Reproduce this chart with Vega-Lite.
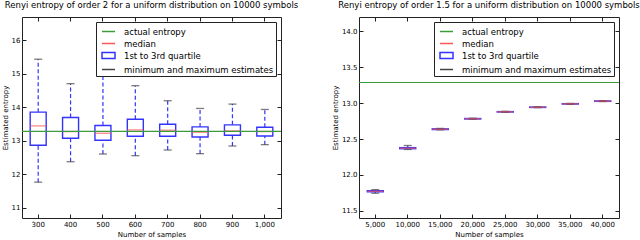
{
  "$schema": "https://vega.github.io/schema/vega-lite/v6.json",
  "padding": 0,
  "background": "white",
  "datasets": {
    "left": [
      {"n": 300, "min": 11.77, "q1": 12.87, "med": 13.45, "q3": 13.86, "max": 15.44},
      {"n": 400, "min": 12.38, "q1": 13.08, "med": 13.28, "q3": 13.70, "max": 14.71},
      {"n": 500, "min": 12.61, "q1": 13.02, "med": 13.23, "q3": 13.46, "max": 15.35},
      {"n": 600, "min": 12.56, "q1": 13.14, "med": 13.33, "q3": 13.65, "max": 14.65},
      {"n": 700, "min": 12.73, "q1": 13.14, "med": 13.32, "q3": 13.50, "max": 14.20},
      {"n": 800, "min": 12.62, "q1": 13.12, "med": 13.26, "q3": 13.42, "max": 13.97},
      {"n": 900, "min": 12.85, "q1": 13.17, "med": 13.30, "q3": 13.48, "max": 14.10},
      {"n": 1000, "min": 12.89, "q1": 13.15, "med": 13.28, "q3": 13.41, "max": 13.94}
    ],
    "right": [
      {"n": 5000, "min": 11.745, "q1": 11.765, "med": 11.772, "q3": 11.78, "max": 11.795},
      {"n": 10000, "min": 12.355, "q1": 12.365, "med": 12.372, "q3": 12.38, "max": 12.41},
      {"n": 15000, "min": 12.628, "q1": 12.632, "med": 12.637, "q3": 12.642, "max": 12.648},
      {"n": 20000, "min": 12.775, "q1": 12.779, "med": 12.782, "q3": 12.786, "max": 12.79},
      {"n": 25000, "min": 12.872, "q1": 12.876, "med": 12.879, "q3": 12.882, "max": 12.886},
      {"n": 30000, "min": 12.937, "q1": 12.94, "med": 12.943, "q3": 12.946, "max": 12.95},
      {"n": 35000, "min": 12.984, "q1": 12.987, "med": 12.99, "q3": 12.993, "max": 12.996},
      {"n": 40000, "min": 13.022, "q1": 13.025, "med": 13.028, "q3": 13.031, "max": 13.034}
    ],
    "truth": [{"v": 13.2877}]
  },
  "config": {
    "font": "DejaVu Sans",
    "view": {"stroke": "#222", "strokeWidth": 1},
    "axis": {"grid": false, "domain": false, "tickSize": -4, "tickColor": "#222", "labelFontSize": 7, "labelColor": "black", "titleFontSize": 7, "titleFontWeight": "normal", "titleColor": "black", "labelFont": "DejaVu Sans", "titleFont": "DejaVu Sans"},
    "title": {"font": "DejaVu Sans", "fontSize": 8.5, "fontWeight": "normal", "color": "black", "offset": 7},
    "legend": {"orient": "top-right", "offset": 5, "fillColor": "white", "strokeColor": "#222", "padding": 2, "symbolOffset": 3, "labelFont": "DejaVu Sans", "labelFontSize": 8.5, "labelColor": "black", "symbolSize": 169, "symbolStrokeWidth": 1.5, "labelOffset": 8, "rowPadding": 0, "titlePadding": 0}
  },
  "spacing": 31,
  "resolve": {"scale": {"color": "independent"}, "legend": {"color": "independent"}},
  "hconcat": [
    {
      "width": 259,
      "height": 201,
      "title": "Renyi entropy of order 2 for a uniform distribution on 10000 symbols",
      "data": {"name": "left"},
      "resolve": {"axis": {"x": "independent", "y": "independent"}},
      "layer": [
        {
          "mark": {"type": "rule", "color": "#3333ff", "strokeDash": [4, 2.5], "strokeWidth": 1.2},
          "encoding": {
            "x": {"field": "n", "type": "ordinal", "scale": {"paddingInner": 0, "paddingOuter": 0}, "axis": null},
            "y": {"field": "min", "type": "quantitative", "scale": {"domain": [10.7, 16.7], "nice": false, "zero": false}, "axis": null},
            "y2": {"field": "q1"}
          }
        },
        {
          "mark": {"type": "rule", "color": "#3333ff", "strokeDash": [4, 2.5], "strokeWidth": 1.2},
          "encoding": {
            "x": {"field": "n", "type": "ordinal", "scale": {"paddingInner": 0, "paddingOuter": 0}, "axis": null},
            "y": {"field": "q3", "type": "quantitative", "scale": {"domain": [10.7, 16.7], "nice": false, "zero": false}, "axis": null},
            "y2": {"field": "max"}
          }
        },
        {
          "mark": {"type": "bar", "filled": false, "size": 16, "strokeWidth": 1.4},
          "encoding": {
            "x": {"field": "n", "type": "ordinal", "scale": {"paddingInner": 0, "paddingOuter": 0}, "axis": {"orient": "bottom", "labelAngle": 0, "labelExpr": "format(datum.value, ',')", "title": "Number of samples", "labelPadding": 6, "titlePadding": 3}},
            "y": {"field": "q1", "type": "quantitative", "scale": {"domain": [10.7, 16.7], "nice": false, "zero": false}, "axis": {"orient": "left", "values": [11, 12, 13, 14, 15, 16], "title": "Estimated entropy", "labelPadding": 6, "titlePadding": 3}},
            "y2": {"field": "q3"},
            "color": {"datum": "1st to 3rd quartile", "type": "nominal",
              "scale": {"domain": ["actual entropy", "median", "1st to 3rd quartile", "minimum and maximum estimates"], "range": ["#3c9c3c", "#ff5555", "#3333ff", "#444444"]},
              "legend": {"title": null,
                "encoding": {"symbols": {
                  "shape": {"value": {"expr": "datum.value === '1st to 3rd quartile' ? 'M-1,-0.45H1V0.45H-1Z' : 'M-1,0H1'"}},
                  "stroke": {"value": {"expr": "datum.value === 'actual entropy' ? '#7cc07c' : datum.value === 'median' ? '#ff8888' : datum.value === '1st to 3rd quartile' ? '#3333ff' : '#666666'"}},
                  "fill": {"value": "transparent"},
                  "fillOpacity": {"value": 0},
                  "opacity": {"value": 1}
                }}}
            }
          }
        },
        {
          "mark": {"type": "tick", "size": 8, "thickness": 1.3},
          "encoding": {
            "x": {"field": "n", "type": "ordinal", "scale": {"paddingInner": 0, "paddingOuter": 0}, "axis": null},
            "y": {"field": "min", "type": "quantitative", "scale": {"domain": [10.7, 16.7], "nice": false, "zero": false}, "axis": null},
            "color": {"datum": "minimum and maximum estimates", "type": "nominal"}
          }
        },
        {
          "mark": {"type": "tick", "size": 8, "thickness": 1.3},
          "encoding": {
            "x": {"field": "n", "type": "ordinal", "scale": {"paddingInner": 0, "paddingOuter": 0}, "axis": null},
            "y": {"field": "max", "type": "quantitative", "scale": {"domain": [10.7, 16.7], "nice": false, "zero": false}, "axis": null},
            "color": {"datum": "minimum and maximum estimates", "type": "nominal"}
          }
        },
        {
          "mark": {"type": "tick", "size": 16, "thickness": 1.3},
          "encoding": {
            "x": {"field": "n", "type": "ordinal", "scale": {"paddingInner": 0, "paddingOuter": 0}, "axis": {"orient": "top", "labels": false, "title": null}},
            "y": {"field": "med", "type": "quantitative", "scale": {"domain": [10.7, 16.7], "nice": false, "zero": false}, "axis": {"orient": "right", "labels": false, "title": null, "values": [11, 12, 13, 14, 15, 16]}},
            "color": {"datum": "median", "type": "nominal"}
          }
        },
        {
          "data": {"name": "truth"},
          "mark": {"type": "rule", "strokeWidth": 1.2},
          "encoding": {
            "y": {"field": "v", "type": "quantitative", "scale": {"domain": [10.7, 16.7], "nice": false, "zero": false}, "axis": null},
            "color": {"datum": "actual entropy", "type": "nominal"}
          }
        }
      ]
    },
    {
      "width": 260,
      "height": 201,
      "title": "Renyi entropy of order 1.5 for a uniform distribution on 10000 symbols",
      "data": {"name": "right"},
      "resolve": {"axis": {"x": "independent", "y": "independent"}},
      "layer": [
        {
          "mark": {"type": "rule", "color": "#3333ff", "strokeDash": [4, 2.5], "strokeWidth": 1.2},
          "encoding": {
            "x": {"field": "n", "type": "ordinal", "scale": {"paddingInner": 0, "paddingOuter": 0}, "axis": null},
            "y": {"field": "min", "type": "quantitative", "scale": {"domain": [11.4, 14.2], "nice": false, "zero": false}, "axis": null},
            "y2": {"field": "q1"}
          }
        },
        {
          "mark": {"type": "rule", "color": "#3333ff", "strokeDash": [4, 2.5], "strokeWidth": 1.2},
          "encoding": {
            "x": {"field": "n", "type": "ordinal", "scale": {"paddingInner": 0, "paddingOuter": 0}, "axis": null},
            "y": {"field": "q3", "type": "quantitative", "scale": {"domain": [11.4, 14.2], "nice": false, "zero": false}, "axis": null},
            "y2": {"field": "max"}
          }
        },
        {
          "mark": {"type": "bar", "filled": false, "size": 16, "strokeWidth": 1.4},
          "encoding": {
            "x": {"field": "n", "type": "ordinal", "scale": {"paddingInner": 0, "paddingOuter": 0}, "axis": {"orient": "bottom", "labelAngle": 0, "labelExpr": "format(datum.value, ',')", "title": "Number of samples", "labelPadding": 6, "titlePadding": 3}},
            "y": {"field": "q1", "type": "quantitative", "scale": {"domain": [11.4, 14.2], "nice": false, "zero": false}, "axis": {"orient": "left", "values": [11.5, 12, 12.5, 13, 13.5, 14], "format": ".1f", "title": "Estimated entropy", "labelPadding": 6, "titlePadding": 3}},
            "y2": {"field": "q3"},
            "color": {"datum": "1st to 3rd quartile", "type": "nominal",
              "scale": {"domain": ["actual entropy", "median", "1st to 3rd quartile", "minimum and maximum estimates"], "range": ["#3c9c3c", "#ff5555", "#3333ff", "#444444"]},
              "legend": {"title": null,
                "encoding": {"symbols": {
                  "shape": {"value": {"expr": "datum.value === '1st to 3rd quartile' ? 'M-1,-0.45H1V0.45H-1Z' : 'M-1,0H1'"}},
                  "stroke": {"value": {"expr": "datum.value === 'actual entropy' ? '#7cc07c' : datum.value === 'median' ? '#ff8888' : datum.value === '1st to 3rd quartile' ? '#3333ff' : '#666666'"}},
                  "fill": {"value": "transparent"},
                  "fillOpacity": {"value": 0},
                  "opacity": {"value": 1}
                }}}
            }
          }
        },
        {
          "mark": {"type": "tick", "size": 8, "thickness": 1.3},
          "encoding": {
            "x": {"field": "n", "type": "ordinal", "scale": {"paddingInner": 0, "paddingOuter": 0}, "axis": null},
            "y": {"field": "min", "type": "quantitative", "scale": {"domain": [11.4, 14.2], "nice": false, "zero": false}, "axis": null},
            "color": {"datum": "minimum and maximum estimates", "type": "nominal"}
          }
        },
        {
          "mark": {"type": "tick", "size": 8, "thickness": 1.3},
          "encoding": {
            "x": {"field": "n", "type": "ordinal", "scale": {"paddingInner": 0, "paddingOuter": 0}, "axis": null},
            "y": {"field": "max", "type": "quantitative", "scale": {"domain": [11.4, 14.2], "nice": false, "zero": false}, "axis": null},
            "color": {"datum": "minimum and maximum estimates", "type": "nominal"}
          }
        },
        {
          "mark": {"type": "tick", "size": 16, "thickness": 1.3},
          "encoding": {
            "x": {"field": "n", "type": "ordinal", "scale": {"paddingInner": 0, "paddingOuter": 0}, "axis": {"orient": "top", "labels": false, "title": null}},
            "y": {"field": "med", "type": "quantitative", "scale": {"domain": [11.4, 14.2], "nice": false, "zero": false}, "axis": {"orient": "right", "labels": false, "title": null, "values": [11.5, 12, 12.5, 13, 13.5, 14]}},
            "color": {"datum": "median", "type": "nominal"}
          }
        },
        {
          "data": {"name": "truth"},
          "mark": {"type": "rule", "strokeWidth": 1.2},
          "encoding": {
            "y": {"field": "v", "type": "quantitative", "scale": {"domain": [11.4, 14.2], "nice": false, "zero": false}, "axis": null},
            "color": {"datum": "actual entropy", "type": "nominal"}
          }
        }
      ]
    }
  ]
}
